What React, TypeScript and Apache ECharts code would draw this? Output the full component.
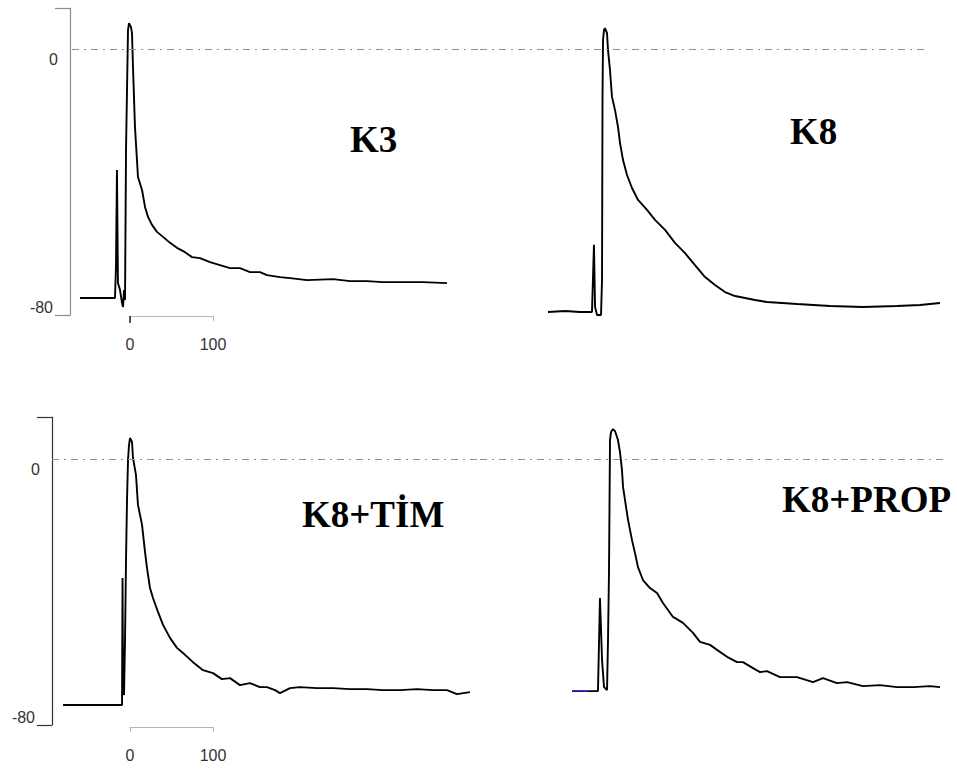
import React, { useEffect, useRef } from "react";
import * as echarts from "echarts";

// ---- Data (time in ms, membrane potential in mV) ----
const k3Time = [-60.2, -18.1, -16.9, -15.7, -14.5, -12.0, -9.6, -8.4, -7.2, -6.0, -4.8, -3.6, -2.4, -1.2, 1.2, 2.4, 3.6, 6.0, 8.4, 9.6, 14.5, 18.1, 21.7, 26.5, 32.5, 39.8, 48.2, 56.6, 66.3, 74.7, 84.3, 96.4, 108.4, 120.5, 132.5, 144.6, 156.6, 165.1, 180.7, 192.8, 213.3, 244.6, 265.1, 285.5, 304.8, 325.3, 353.0, 381.9];
const k3Voltage = [-74.9, -74.9, -65.6, -36.4, -70.4, -72.5, -76.4, -77.6, -72.5, -75.5, -30.4, -12.3, 5.7, 7.8, 6.6, 4.8, -5.4, -23.5, -33.4, -38.5, -42.4, -47.5, -50.5, -52.9, -55.0, -56.5, -58.3, -59.8, -61.1, -62.6, -62.9, -64.1, -65.0, -65.9, -65.9, -67.1, -67.1, -68.0, -68.6, -68.9, -69.5, -69.2, -69.8, -69.8, -70.1, -70.1, -70.1, -70.4];

const k8Time = [-68.7, -48.2, -30.1, -15.7, -13.3, -12.0, -9.6, -4.8, -3.6, -3.0, -2.4, -1.2, 0, 2.4, 3.6, 6.0, 8.4, 12.0, 15.7, 18.1, 21.7, 26.5, 32.5, 39.8, 50.6, 60.2, 72.3, 84.3, 96.4, 108.4, 120.5, 132.5, 144.6, 156.6, 168.7, 180.7, 195.2, 231.3, 271.1, 310.8, 351.8, 379.5, 403.6];
const k8Voltage = [-79.1, -78.8, -79.1, -79.1, -58.9, -77.6, -80.0, -80.0, -69.5, -14.4, 2.7, 5.7, 6.3, 4.8, -0.3, -6.3, -14.4, -18.3, -23.5, -28.3, -33.4, -37.9, -41.8, -45.4, -48.4, -51.4, -54.4, -58.3, -61.4, -65.0, -68.6, -71.0, -73.1, -74.3, -74.9, -75.5, -76.1, -76.7, -77.3, -77.6, -77.3, -77.0, -76.4];

const k8TimTime = [-80.7, -9.6, -9.0, -8.4, -7.2, -6.0, -4.8, -3.6, -2.4, -1.2, 0, 2.4, 3.6, 7.2, 9.6, 14.5, 18.1, 20.5, 24.1, 27.7, 33.7, 39.8, 48.2, 56.6, 66.3, 75.9, 88.0, 100.0, 110.8, 120.5, 132.5, 144.6, 156.6, 165.1, 174.7, 180.7, 192.8, 204.8, 225.3, 244.6, 265.1, 285.5, 304.8, 325.3, 345.8, 365.1, 381.9, 393.9, 409.6];
const k8TimVoltage = [-74.0, -74.0, -35.8, -66.5, -71.0, -54.4, -30.4, -12.3, -0.3, 4.2, 6.3, 5.1, 0.3, -4.8, -13.8, -19.8, -28.0, -32.8, -38.8, -41.8, -46.0, -49.9, -53.8, -56.8, -58.9, -61.1, -63.5, -64.4, -66.2, -65.9, -68.0, -67.4, -68.6, -68.6, -69.5, -70.4, -68.9, -68.6, -68.9, -68.9, -69.2, -69.2, -69.5, -69.5, -69.2, -69.5, -69.5, -70.7, -70.1];

const k8PropBaseTime = [-48.2, -28.9];
const k8PropBaseVoltage = [-69.8, -69.8];
const k8PropTime = [-28.9, -16.9, -14.5, -12.0, -9.6, -6.0, -4.8, -3.6, -2.4, -1.2, 1.2, 3.6, 7.2, 9.6, 12.0, 13.3, 16.9, 19.3, 24.1, 27.7, 31.3, 37.3, 45.8, 54.2, 61.4, 73.5, 85.5, 97.6, 106.0, 118.1, 126.5, 138.6, 150.6, 157.8, 169.9, 178.3, 186.7, 202.4, 222.9, 242.2, 254.2, 271.1, 283.1, 302.4, 322.9, 343.4, 362.7, 383.1, 395.2];
const k8PropVoltage = [-69.8, -69.8, -41.8, -60.5, -68.6, -69.5, -54.4, -33.4, 5.7, 8.1, 9.0, 8.4, 5.7, 2.1, -3.3, -8.4, -14.4, -18.3, -24.4, -28.3, -32.5, -36.4, -38.8, -40.3, -43.3, -47.5, -49.3, -52.3, -55.0, -55.9, -57.4, -59.5, -61.1, -61.1, -62.9, -64.1, -63.8, -65.6, -65.6, -67.1, -65.9, -67.4, -67.1, -68.3, -68.0, -68.6, -68.6, -68.3, -68.6];

const panelTitles = ["K3", "K8", "K8+TİM", "K8+PROP"];
const yLabelValues = [-80, 0];
const xScaleValues = [0, 100];

const zip = (xs: number[], ys: number[]) => xs.map((x, i) => [x, ys[i]]);

const SANS = "'Liberation Sans', Arial, sans-serif";
const SERIF = "'Liberation Serif', 'Times New Roman', serif";

function yAxisWithBracket(gridIndex: number, max: number, color: string) {
  return {
    gridIndex,
    type: "value",
    min: -80,
    max,
    position: "left",
    axisLine: { show: true, onZero: false, lineStyle: { color, width: 1.2 } },
    axisTick: { show: true, customValues: [-80, max], length: 15, lineStyle: { color, width: 1.2 } },
    axisLabel: {
      show: true,
      customValues: yLabelValues,
      margin: 12,
      color: "#333",
      fontFamily: SANS,
      fontSize: 16,
      formatter: (v: number) => (v === 0 ? "{z|0}" : "{m|" + v + "}"),
      rich: {
        z: { padding: [22, 0, 0, 0], fontFamily: SANS, fontSize: 16, color: "#333" },
        m: { padding: [0, 5, 16, 0], fontFamily: SANS, fontSize: 16, color: "#333" },
      },
    },
    splitLine: { show: false },
  };
}

function hiddenY(gridIndex: number, max: number) {
  return { gridIndex, type: "value", min: -80, max, show: false };
}

function hiddenX(gridIndex: number, min: number, max: number) {
  return { gridIndex, type: "value", min, max, show: false };
}

function scaleBarX(gridIndex: number) {
  return {
    gridIndex,
    type: "value",
    min: 0,
    max: 100,
    position: "bottom",
    axisLine: { show: true, onZero: false, lineStyle: { color: "#b5b5b5", width: 1 } },
    axisTick: { show: true, customValues: xScaleValues, length: 5, lineStyle: { color: "#b5b5b5" } },
    axisLabel: { show: true, customValues: xScaleValues, margin: 20, color: "#333", fontFamily: SANS, fontSize: 16 },
    splitLine: { show: false },
  };
}

function zeroLine(x0: number, x1: number) {
  return {
    silent: true,
    symbol: ["none", "none"],
    label: { show: false },
    lineStyle: { type: [7, 5, 2, 5], color: "#8f8f8f", width: 1.2 },
    data: [[{ coord: [x0, 0] }, { coord: [x1, 0] }]],
  };
}

function trace(idx: number, data: number[][], color = "#000", markLine?: any) {
  return {
    type: "line",
    xAxisIndex: idx,
    yAxisIndex: idx,
    data,
    showSymbol: false,
    symbol: "none",
    lineStyle: { color, width: 1.9 },
    markLine,
    z: 3,
  };
}

export default function App() {
  const ref = useRef<HTMLDivElement>(null);
  useEffect(() => {
    if (!ref.current) return;
    const chart = echarts.init(ref.current, undefined, { renderer: "svg" });
    const topMax = 12.33;
    const botMax = 12.63;
    const option: any = {
      animation: false,
      backgroundColor: "#fff",
      title: [
        { text: panelTitles[0], left: 350, top: 121, padding: 0 },
        { text: panelTitles[1], left: 790, top: 113, padding: 0 },
        { text: panelTitles[2], left: 302, top: 496, padding: 0 },
        { text: panelTitles[3], left: 782, top: 481, padding: 0 },
      ].map((t) => ({
        ...t,
        textStyle: { fontFamily: SERIF, fontSize: 37, fontWeight: "bold", color: "#000" },
      })),
      grid: [
        { left: 70, top: 8, width: 408, height: 307 },
        { left: 480, top: 8, width: 465, height: 307 },
        { left: 52, top: 417, width: 426, height: 308 },
        { left: 480, top: 417, width: 465, height: 308 },
        { left: 130, top: 315, width: 83, height: 1 },
        { left: 130, top: 726, width: 83, height: 1 },
      ],
      xAxis: [
        hiddenX(0, -72.29, 419.28),
        hiddenX(1, -150.6, 409.6),
        hiddenX(2, -93.98, 419.28),
        hiddenX(3, -159.04, 401.2),
        scaleBarX(4),
        scaleBarX(5),
        {
          gridIndex: 4, type: "value", min: 0, max: 100, position: "bottom",
          axisLine: { show: false, onZero: false },
          axisTick: { show: true, customValues: [0], length: 7, lineStyle: { color: "#222", width: 1.5 } },
          axisLabel: { show: false },
          splitLine: { show: false },
        },
      ],
      yAxis: [
        yAxisWithBracket(0, topMax, "#8c8c8c"),
        hiddenY(1, topMax),
        yAxisWithBracket(2, botMax, "#333"),
        hiddenY(3, botMax),
        { gridIndex: 4, type: "value", show: false },
        { gridIndex: 5, type: "value", show: false },
      ],
      series: [
        trace(0, zip(k3Time, k3Voltage), "#000", zeroLine(-69.9, 419.28)),
        trace(1, zip(k8Time, k8Voltage), "#000", zeroLine(-150.6, 389.2)),
        trace(2, zip(k8TimTime, k8TimVoltage), "#000", zeroLine(-93.98, 419.28)),
        trace(3, zip(k8PropTime, k8PropVoltage), "#000", zeroLine(-159.04, 401.2)),
        trace(3, zip(k8PropBaseTime, k8PropBaseVoltage), "#1a1a9e"),
      ],
    };
    chart.setOption(option);
    return () => chart.dispose();
  }, []);
  return (
    <div
      ref={ref}
      style={{ position: "absolute", left: 0, top: 0, width: 957, height: 769, background: "#fff" }}
    />
  );
}
